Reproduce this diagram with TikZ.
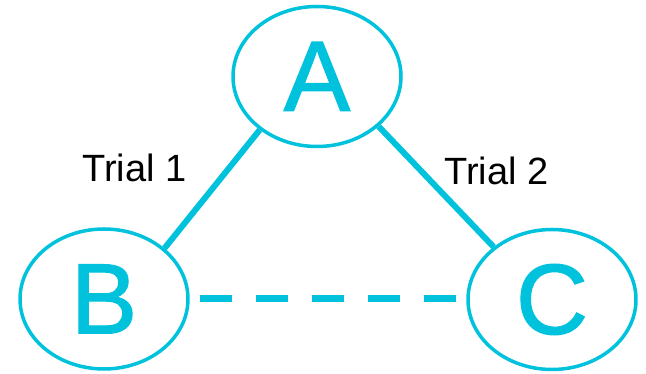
\documentclass[tikz,border=0pt]{standalone}
\usepackage{fontspec}
\setmainfont{Liberation Sans}
\newfontfamily\vertexfont[FakeBold=1.2]{Liberation Sans}
\usetikzlibrary{shapes.geometric}
\definecolor{teal}{RGB}{0,194,220}
\begin{document}
\begin{tikzpicture}[x=1pt,y=1pt,
  vertex/.style={ellipse, draw=teal, line width=3.5pt, inner sep=0pt,
    minimum width=168pt, minimum height=140pt, text=teal,
    font=\vertexfont\fontsize{100}{100}\selectfont},
  edge/.style={draw=teal, line width=6pt},
  trialtext/.style={anchor=base west, inner sep=0pt,
    font=\fontsize{38}{38}\selectfont}]
  \useasboundingbox (0,0) rectangle (646,374);
  % the three vertices
  \node[vertex] (A) at (317,297.5) {\raisebox{-3pt}{A}};
  \node[vertex] (B) at (104,75) {\raisebox{-3pt}{B}};
  \node[vertex] (C) at (552,74.5) {\raisebox{-3pt}{C}};
  % connectors
  \draw[edge] (A.223) -- (B.40);
  \draw[edge] (A.321) -- (C.138);
  \draw[edge, line width=7pt, dash pattern=on 32pt off 24pt]
    ([xshift=10.7pt]B.east) -- ([xshift=-10.3pt]B.east -| C.west);
  % edge labels
  \node[trialtext] (t1) at (82,192) {Trial 1};
  \node[trialtext] (t2) at (444,189) {Trial 2};
\end{tikzpicture}
\end{document}
